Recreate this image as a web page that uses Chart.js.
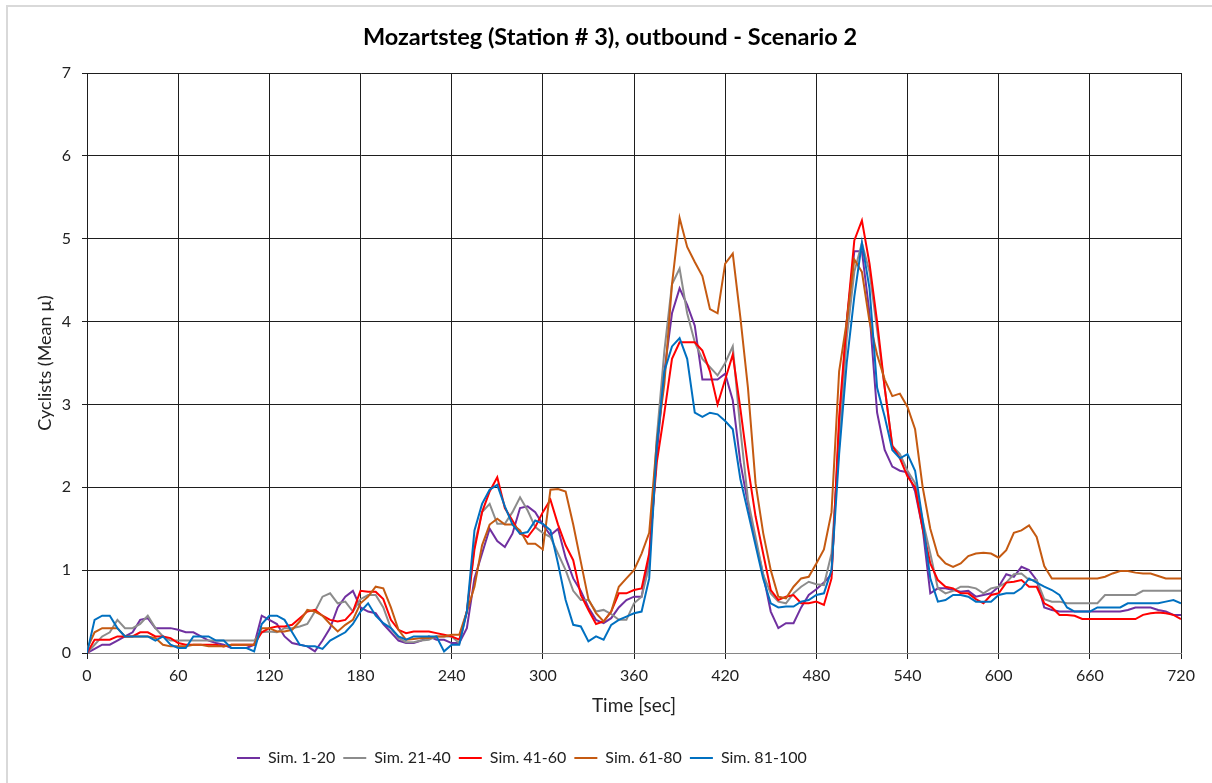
<!DOCTYPE html>
<html>
<head>
<meta charset="utf-8">
<title>Mozartsteg outbound</title>
<script src="https://cdn.jsdelivr.net/npm/chart.js@4.4.1/dist/chart.umd.min.js"></script>
<style>
	html, body { margin: 0; padding: 0; background: #fff; }
	canvas { display: block; }
</style>
</head>
<body>
<canvas id="grafico" width="1212" height="783"></canvas>
<script>
// time axis: one sample every 5 seconds, 0..720
var tiempos = Array.from({ length: 145 }, (_, i) => i * 5);

var sim1_20 = [
	0, 0.05, 0.1, 0.1, 0.15, 0.2, 0.25, 0.4, 0.42, 0.3, 0.3, 0.3, 0.28, 0.25, 0.25, 0.2, 0.15, 0.12, 0.1, 0.06, 0.06, 0.06, 0.1, 0.45, 0.4,
	0.35, 0.2, 0.12, 0.1, 0.08, 0.02, 0.15, 0.3, 0.55, 0.68, 0.75, 0.55, 0.5, 0.48, 0.35, 0.25, 0.15, 0.12, 0.12, 0.15, 0.2, 0.16, 0.16, 0.12,
	0.12, 0.3, 0.9, 1.2, 1.5, 1.35, 1.28, 1.44, 1.75, 1.77, 1.7, 1.55, 1.42, 1.5, 1.15, 0.9, 0.75, 0.55, 0.4, 0.36, 0.42, 0.55, 0.64, 0.68,
	0.68, 1.15, 2.4, 3.4, 4.1, 4.4, 4.2, 3.95, 3.3, 3.3, 3.3, 3.37, 3.05, 2.3, 1.8, 1.35, 0.95, 0.5, 0.3, 0.36,
	0.36, 0.55, 0.7, 0.77, 0.85, 0.95, 2.7, 4.0, 4.85, 4.85, 4.1, 2.9, 2.45, 2.25, 2.2, 2.18, 1.95, 1.5, 0.72, 0.78,
	0.78, 0.76, 0.74, 0.75, 0.68, 0.7, 0.72, 0.8, 0.95, 0.92, 1.04, 1.0, 0.88, 0.55, 0.52,
	0.5, 0.5, 0.5, 0.5, 0.5, 0.5, 0.5, 0.5, 0.5, 0.52, 0.55, 0.55, 0.55, 0.52, 0.5, 0.46, 0.46
];
var sim21_40 = [
	0, 0.1, 0.2, 0.25, 0.4, 0.3, 0.3, 0.35, 0.45, 0.3, 0.2, 0.15, 0.15, 0.15, 0.15, 0.15, 0.15, 0.15, 0.15, 0.15, 0.15, 0.15, 0.15, 0.25, 0.26,
	0.25, 0.3, 0.3, 0.32, 0.35, 0.5, 0.68, 0.72, 0.6, 0.62, 0.5, 0.65, 0.7, 0.7, 0.55, 0.3, 0.18, 0.13, 0.13, 0.15, 0.16, 0.2, 0.2, 0.2,
	0.12, 0.5, 1.3, 1.7, 1.8, 1.56, 1.56, 1.7, 1.88, 1.72, 1.52, 1.45, 1.4, 1.2, 1.0, 0.75, 0.64, 0.64, 0.5, 0.52, 0.47, 0.4, 0.4, 0.6,
	0.68, 1.05, 2.6, 3.65, 4.45, 4.64, 4.1, 3.75, 3.55, 3.45, 3.35, 3.5, 3.7, 2.7, 1.85, 1.4, 0.95, 0.72, 0.62, 0.6,
	0.72, 0.8, 0.86, 0.83, 0.82, 1.2, 2.5, 3.8, 4.6, 4.95, 4.6, 3.9, 3.2, 2.5, 2.4, 2.2, 2.05, 1.6, 1.2, 0.78,
	0.72, 0.75, 0.8, 0.8, 0.78, 0.72, 0.78, 0.8, 0.85, 0.95, 0.96, 0.88, 0.88, 0.65, 0.62,
	0.62, 0.6, 0.6, 0.6, 0.6, 0.6, 0.7, 0.7, 0.7, 0.7, 0.7, 0.75, 0.75, 0.75, 0.75, 0.75, 0.75
];
var sim41_60 = [
	0, 0.16, 0.16, 0.16, 0.2, 0.2, 0.2, 0.25, 0.25, 0.2, 0.2, 0.18, 0.12, 0.1, 0.1, 0.1, 0.1, 0.1, 0.08, 0.1, 0.1, 0.1, 0.1, 0.25, 0.3,
	0.32, 0.32, 0.34, 0.42, 0.5, 0.52, 0.45, 0.4, 0.38, 0.4, 0.5, 0.75, 0.74, 0.74, 0.65, 0.4, 0.28, 0.24, 0.26, 0.26, 0.26, 0.24, 0.22, 0.2,
	0.16, 0.5, 1.25, 1.7, 1.95, 2.12, 1.75, 1.6, 1.44, 1.4, 1.52, 1.7, 1.85, 1.55, 1.3, 1.12, 0.7, 0.52, 0.35, 0.38, 0.5, 0.72, 0.72, 0.76,
	0.78, 1.2, 2.3, 2.9, 3.55, 3.75, 3.75, 3.75, 3.65, 3.4, 3.0, 3.3, 3.6, 2.95, 2.25, 1.65, 1.2, 0.76, 0.64, 0.68,
	0.7, 0.6, 0.6, 0.62, 0.58, 0.9, 2.85, 4.0, 4.98, 5.22, 4.7, 4.0, 3.2, 2.5, 2.35, 2.13, 2.0, 1.5, 1.08, 0.88,
	0.8, 0.78, 0.72, 0.72, 0.65, 0.6, 0.7, 0.72, 0.85, 0.86, 0.88, 0.8, 0.8, 0.6, 0.55,
	0.46, 0.46, 0.45, 0.41, 0.41, 0.41, 0.41, 0.41, 0.41, 0.41, 0.41, 0.46, 0.48, 0.49, 0.48, 0.46, 0.41
];
var sim61_80 = [
	0.05, 0.25, 0.3, 0.3, 0.3, 0.2, 0.2, 0.2, 0.2, 0.18, 0.1, 0.08, 0.08, 0.08, 0.1, 0.1, 0.08, 0.08, 0.08, 0.1, 0.1, 0.1, 0.1, 0.3, 0.3,
	0.26, 0.26, 0.28, 0.38, 0.52, 0.5, 0.45, 0.35, 0.26, 0.34, 0.4, 0.6, 0.68, 0.8, 0.78, 0.55, 0.28, 0.16, 0.17, 0.18, 0.18, 0.2, 0.2, 0.22,
	0.22, 0.5, 0.8, 1.3, 1.55, 1.62, 1.55, 1.55, 1.48, 1.32, 1.32, 1.25, 1.97, 1.98, 1.95, 1.55, 1.1, 0.65, 0.48, 0.38, 0.5, 0.8, 0.9, 1.0,
	1.2, 1.45, 2.55, 3.25, 4.45, 5.25, 4.9, 4.72, 4.55, 4.15, 4.1, 4.7, 4.82, 4.05, 3.2, 2.05, 1.45, 1.0, 0.68, 0.66,
	0.8, 0.9, 0.92, 1.08, 1.25, 1.7, 3.4, 4.0, 4.75, 4.6, 4.0, 3.6, 3.3, 3.1, 3.13, 2.97, 2.7, 2.0, 1.5, 1.18,
	1.08, 1.04, 1.08, 1.17, 1.2, 1.21, 1.2, 1.15, 1.24, 1.45, 1.48, 1.54, 1.4, 1.05, 0.9,
	0.9, 0.9, 0.9, 0.9, 0.9, 0.9, 0.92, 0.96, 0.99, 0.99, 0.97, 0.96, 0.96, 0.93, 0.9, 0.9, 0.9
];
var sim81_100 = [
	0, 0.4, 0.45, 0.45, 0.3, 0.2, 0.2, 0.2, 0.2, 0.15, 0.2, 0.1, 0.06, 0.06, 0.2, 0.2, 0.2, 0.15, 0.15, 0.06, 0.06, 0.06, 0.02, 0.35, 0.45,
	0.45, 0.4, 0.25, 0.1, 0.08, 0.08, 0.05, 0.15, 0.2, 0.25, 0.35, 0.5, 0.6, 0.45, 0.36, 0.3, 0.2, 0.16, 0.2, 0.2, 0.2, 0.2, 0.02, 0.1,
	0.1, 0.5, 1.48, 1.8, 1.97, 2.03, 1.77, 1.55, 1.44, 1.46, 1.6, 1.56, 1.48, 1.08, 0.64, 0.34, 0.32, 0.14, 0.2, 0.16, 0.34, 0.4, 0.44, 0.48,
	0.5, 0.9, 2.5, 3.4, 3.7, 3.8, 3.55, 2.9, 2.85, 2.9, 2.88, 2.8, 2.7, 2.1, 1.7, 1.3, 0.9, 0.6, 0.55, 0.56,
	0.56, 0.62, 0.64, 0.7, 0.72, 1.0, 2.4, 3.5, 4.3, 4.95, 4.4, 3.2, 2.85, 2.45, 2.35, 2.4, 2.2, 1.6, 0.9, 0.62,
	0.64, 0.7, 0.7, 0.68, 0.62, 0.62, 0.62, 0.7, 0.72, 0.72, 0.78, 0.9, 0.85, 0.8, 0.76,
	0.7, 0.55, 0.5, 0.5, 0.5, 0.55, 0.55, 0.55, 0.55, 0.6, 0.6, 0.6, 0.6, 0.6, 0.62, 0.64, 0.6
];

var nombres = ['Sim. 1-20', 'Sim. 21-40', 'Sim. 41-60', 'Sim. 61-80', 'Sim. 81-100'];
var series = [sim1_20, sim21_40, sim41_60, sim61_80, sim81_100];
var colores = ['#7030A0', '#8C8C8C', '#FF0000', '#C55A11', '#0070C0'];

var fuente = 'Lato, "Open Sans", sans-serif';

// light frame round the chart (only the top and left edges fall inside the canvas)
const marco = {
	id: 'marco',
	beforeDraw(chart) {
		const ctx = chart.ctx;
		ctx.save();
		ctx.fillStyle = '#ffffff';
		ctx.fillRect(0, 0, chart.width, chart.height);
		ctx.strokeStyle = '#d9d9d9';
		ctx.lineWidth = 2;
		ctx.beginPath();
		ctx.moveTo(7, chart.height + 5);
		ctx.lineTo(7, 6);
		ctx.lineTo(chart.width + 5, 6);
		ctx.stroke();
		ctx.restore();
	}
};

// title centred on the whole canvas, legend row starting left of the plot centre
const ajustes = {
	id: 'ajustes',
	afterLayout(chart) {
		if (chart.titleBlock) {
			chart.titleBlock.right = chart.width;
			chart.titleBlock.width = chart.width - chart.titleBlock.left;
		}
		if (chart.legend) {
			chart.legend.left = 229;
		}
	}
};

const data = {
	datasets: series.map((valores, i) => ({
		label: nombres[i],
		data: valores.map((v, j) => ({ x: tiempos[j], y: v })),
		borderColor: colores[i],
		backgroundColor: colores[i],
		borderWidth: 2,
		pointRadius: 0,
		tension: 0,
		fill: false,
		order: series.length - i
	}))
};

const config = {
	type: 'line',
	data: data,
	options: {
		responsive: false,
		animation: false,
		devicePixelRatio: 1,
		layout: {
			padding: { left: 8, right: 31, top: 0, bottom: 7 }
		},
		plugins: {
			title: {
				display: true,
				text: 'Mozartsteg (Station # 3), outbound - Scenario 2',
				color: '#000',
				font: { family: fuente, size: 23.5, weight: 'bold' },
				padding: { top: 23, bottom: 21.8 }
			},
			legend: {
				position: 'bottom',
				align: 'start',
				labels: {
					usePointStyle: true,
					pointStyle: 'line',
					pointStyleWidth: 23,
					color: '#222',
					font: { family: fuente, size: 16 },
					padding: 8,
					sort: (a, b) => a.datasetIndex - b.datasetIndex
				}
			},
			tooltip: { enabled: false }
		},
		scales: {
			x: {
				type: 'linear',
				min: 0,
				max: 720,
				afterFit: (scale) => { scale.height = 89; },
				ticks: {
					stepSize: 60,
					color: '#222',
					padding: 7,
					maxRotation: 0,
					font: { family: fuente, size: 16 }
				},
				grid: { color: '#1e1e1e', lineWidth: 1, tickLength: 6 },
				border: { color: '#868686', width: 1 },
				title: {
					display: true,
					text: 'Time [sec]',
					color: '#222',
					font: { family: fuente, size: 19 },
					padding: { top: 0, bottom: 24.6 }
				}
			},
			y: {
				min: 0,
				max: 7,
				afterFit: (scale) => { scale.width = 79; },
				ticks: {
					stepSize: 1,
					color: '#222',
					padding: 11,
					font: { family: fuente, size: 16 }
				},
				grid: { color: '#1e1e1e', lineWidth: 1, tickLength: 5 },
				border: { color: '#1e1e1e', width: 1 },
				title: {
					display: true,
					text: 'Cyclists (Mean µ)',
					color: '#222',
					font: { family: fuente, size: 18 },
					padding: { top: 26, bottom: 0 }
				}
			}
		}
	},
	plugins: [marco, ajustes]
};

var grafico = new Chart(document.getElementById('grafico'), config);
</script>
</body>
</html>
